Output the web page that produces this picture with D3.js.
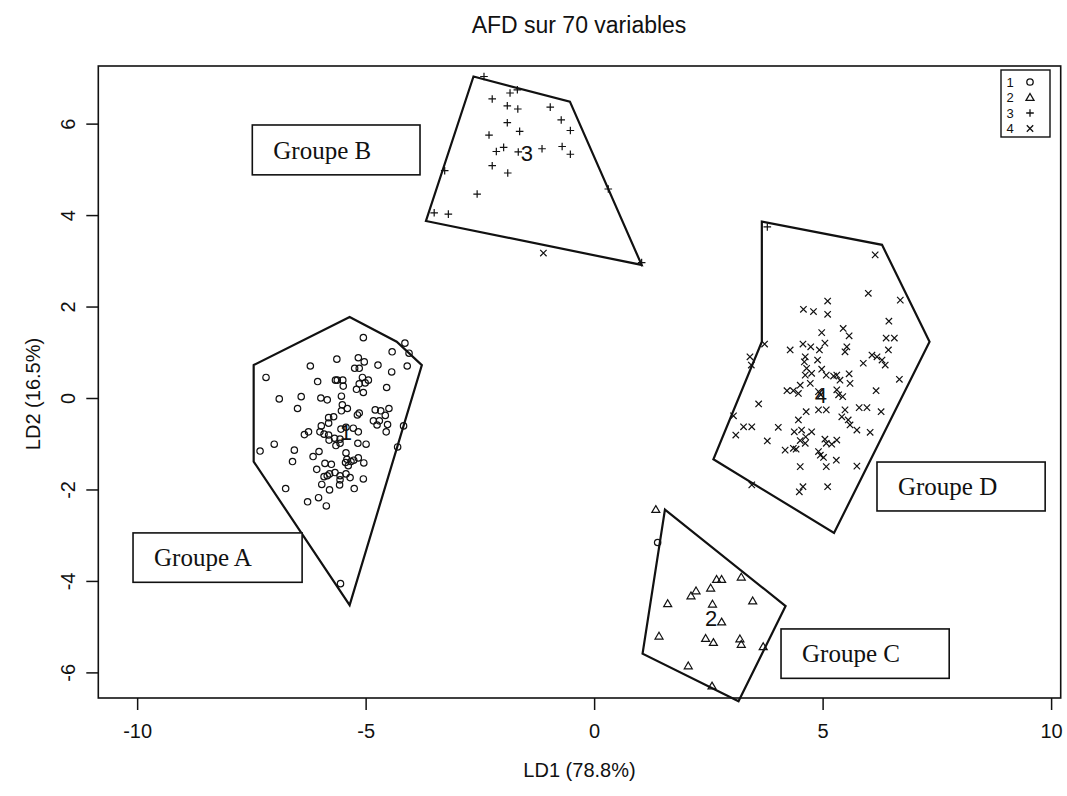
<!DOCTYPE html>
<html><head><meta charset="utf-8">
<script src="https://cdnjs.cloudflare.com/ajax/libs/d3/7.8.5/d3.min.js"></script>
<style>body{margin:0;background:#fff}svg{display:block}</style>
</head><body><svg id="c" width="1067" height="796"></svg>
<script>
// ---- data (LD1, LD2) ----
const groupA = [[-5.05,1.32],[-4.14,1.20],[-4.05,0.98],[-4.42,1.01],[-5.63,0.85],[-5.16,0.88],[-5.03,0.79],[-4.73,0.72],[-4.09,0.70],[-6.21,0.70],
[-5.24,0.65],[-5.14,0.65],[-4.43,0.57],[-7.18,0.45],[-5.66,0.39],[-5.62,0.39],[-5.50,0.39],[-6.05,0.36],[-5.07,0.45],[-4.94,0.39],
[-5.14,0.31],[-5.49,0.26],[-5.01,0.33],[-4.54,0.23],[-5.20,0.19],[-5.05,0.12],[-6.89,-0.02],[-6.41,0.03],[-5.98,0.00],[-5.84,-0.04],
[-5.53,0.04],[-6.49,-0.23],[-5.51,-0.15],[-5.40,-0.23],[-5.53,-0.28],[-5.14,-0.33],[-5.18,-0.37],[-4.79,-0.26],[-4.67,-0.28],[-4.49,-0.23],
[-4.57,-0.38],[-5.70,-0.41],[-5.81,-0.43],[-4.83,-0.50],[-4.70,-0.50],[-4.75,-0.59],[-4.52,-0.58],[-4.17,-0.61],[-5.81,-0.55],[-5.97,-0.61],
[-5.54,-0.68],[-5.43,-0.64],[-5.27,-0.66],[-5.16,-0.74],[-6.25,-0.74],[-6.34,-0.80],[-6.00,-0.74],[-5.91,-0.79],[-5.81,-0.81],[-5.68,-0.88],
[-5.80,-0.92],[-5.56,-0.90],[-4.55,-0.74],[-7.31,-1.16],[-7.00,-1.01],[-6.56,-1.14],[-5.56,-0.99],[-5.65,-1.04],[-5.17,-0.99],[-4.99,-1.01],
[-4.30,-1.07],[-6.02,-1.17],[-6.15,-1.28],[-6.60,-1.39],[-5.43,-1.20],[-5.41,-1.34],[-5.44,-1.41],[-5.32,-1.39],[-5.38,-1.48],[-5.26,-1.36],
[-5.16,-1.31],[-5.04,-1.42],[-6.07,-1.56],[-5.89,-1.43],[-5.75,-1.45],[-5.67,-1.63],[-5.79,-1.66],[-5.84,-1.70],[-5.56,-1.70],[-5.91,-1.72],
[-5.43,-1.66],[-5.34,-1.74],[-5.56,-1.79],[-5.05,-1.77],[-5.96,-1.89],[-5.57,-1.90],[-6.75,-1.98],[-5.79,-2.01],[-5.25,-1.98],[-6.03,-2.18],
[-6.27,-2.27],[-5.86,-2.36],[-5.55,-4.06],[1.39,-3.16]];
const groupC = [[1.35,-2.44],[2.68,-3.97],[2.79,-3.97],[3.22,-3.92],[2.23,-4.22],[2.12,-4.33],[2.55,-4.16],[1.61,-4.50],[2.59,-4.51],[3.47,-4.44],
[2.79,-4.90],[1.42,-5.21],[2.44,-5.26],[2.61,-5.35],[3.19,-5.27],[3.22,-5.39],[3.70,-5.44],[2.06,-5.86],[2.58,-6.30]];
const groupB = [[-2.41,7.03],[-1.84,6.67],[-1.68,6.74],[-2.23,6.54],[-1.90,6.39],[-1.67,6.32],[-0.96,6.36],[-1.90,6.02],[-0.72,6.08],[-1.63,5.83],
[-0.52,5.85],[-2.30,5.75],[-1.98,5.48],[-2.14,5.39],[-1.66,5.38],[-1.14,5.45],[-0.70,5.50],[-0.52,5.33],[-2.23,5.08],[-1.89,4.92],
[-3.27,4.97],[-2.56,4.46],[-3.50,4.05],[-3.19,4.02],[0.31,4.57],[1.04,2.96],[3.79,3.74]];
const groupD = [[-1.11,3.17],[6.15,3.13],[6.00,2.29],[6.70,2.14],[5.11,2.12],[4.58,1.94],[4.80,1.89],[5.11,1.83],[6.45,1.68],[4.98,1.43],
[5.45,1.52],[5.58,1.36],[6.39,1.31],[6.57,1.31],[3.73,1.18],[3.41,0.90],[3.44,0.72],[4.29,1.05],[4.57,1.18],[4.74,1.12],
[5.05,1.20],[4.93,1.05],[5.53,1.12],[5.49,1.01],[6.44,1.05],[4.62,0.90],[4.60,0.79],[4.89,0.83],[5.89,0.76],[6.08,0.94],
[6.19,0.90],[6.30,0.83],[6.37,0.72],[4.65,0.65],[4.98,0.63],[4.76,0.54],[4.62,0.50],[5.08,0.50],[5.24,0.48],[5.31,0.50],
[5.58,0.53],[5.38,0.39],[5.60,0.32],[6.68,0.41],[4.73,0.32],[4.51,0.28],[4.22,0.16],[4.36,0.16],[4.47,0.10],[4.91,0.14],
[4.96,0.07],[5.31,0.18],[5.44,0.03],[5.35,0.07],[6.17,0.16],[3.60,-0.13],[4.64,-0.30],[4.91,-0.26],[5.08,-0.26],[5.49,-0.26],
[5.42,-0.41],[5.80,-0.21],[5.97,-0.21],[6.28,-0.30],[3.05,-0.39],[3.27,-0.63],[3.45,-0.63],[3.10,-0.81],[4.03,-0.64],[4.47,-0.48],
[4.54,-0.70],[4.38,-0.74],[4.76,-0.74],[4.63,-0.85],[5.56,-0.48],[5.60,-0.59],[5.75,-0.70],[6.04,-0.75],[3.79,-0.94],[4.51,-0.93],
[4.62,-0.99],[4.18,-1.14],[4.36,-1.10],[4.42,-1.12],[5.05,-0.90],[5.31,-0.92],[5.20,-1.01],[5.08,-0.99],[4.91,-1.17],[4.95,-1.25],
[5.02,-1.30],[5.08,-1.50],[5.30,-1.36],[5.75,-1.49],[4.51,-1.50],[3.45,-1.90],[4.57,-1.94],[4.49,-2.05],[5.11,-1.94]];
const groupCentres = [["1",-5.43,-0.74],["2",2.56,-4.82],["3",-1.47,5.35],["4",4.96,0.07]];
const hullA = [[-7.45,0.72],[-5.35,1.77],[-4.32,1.23],[-3.77,0.72],[-5.35,-4.53],[-7.45,-1.39]];
const hullB = [[-2.64,7.03],[-0.53,6.48],[1.04,2.91],[-3.68,3.87]];
const hullC = [[1.55,-2.44],[4.19,-4.55],[3.16,-6.63],[1.06,-5.59]];
const hullD = [[3.67,3.86],[6.30,3.35],[7.34,1.23],[5.25,-2.95],[2.61,-1.34],[3.67,1.23]];
const groupNames = ["Groupe A","Groupe B","Groupe C","Groupe D"];
const groupBoxes = [[-10.09,-2.95,-6.39,-4.03],[-7.48,5.97,-3.81,4.88],[4.09,-5.05,7.77,-6.13],[6.19,-1.40,9.87,-2.47]];
const xTicks = [-10,-5,0,5,10];
const yTicks = [-6,-4,-2,0,2,4,6];
const legendKeys = ["1","2","3","4"];

// ---- chart ----
const svg = d3.select("#c");
const L=98.3,R=1060.7,T=66,B=698;
const x = d3.scaleLinear().domain([-10.85,10.21]).range([L,R]);
const y = d3.scaleLinear().domain([-6.56,7.26]).range([B,T]);
const ink="#111";
const sans="Liberation Sans, Arial, sans-serif";

svg.append("text").attr("x",579).attr("y",33).attr("text-anchor","middle")
  .attr("font-family",sans).attr("font-size",23).attr("fill",ink)
  .text("AFD sur 70 variables");

const fmt = d => String(d);
const xa = svg.append("g").attr("transform",`translate(0,${B})`)
  .call(d3.axisBottom(x).tickValues(xTicks).tickSize(12).tickPadding(14).tickFormat(fmt));
const ya = svg.append("g").attr("transform",`translate(${L},0)`)
  .call(d3.axisLeft(y).tickValues(yTicks).tickSize(12).tickPadding(6).tickFormat(fmt));
[xa,ya].forEach(g=>{g.select(".domain").remove();
  g.selectAll("line").attr("stroke",ink).attr("stroke-width",1.5);
  g.selectAll("text").attr("font-family",sans).attr("font-size",20).attr("fill",ink);});
ya.selectAll(".tick text").attr("text-anchor","middle")
  .attr("transform","rotate(-90)").attr("x",0).attr("y",-30).attr("dy","0.35em");

svg.append("rect").attr("x",L).attr("y",T).attr("width",R-L).attr("height",B-T)
  .attr("fill","none").attr("stroke",ink).attr("stroke-width",1.6);

svg.append("text").attr("x",(L+R)/2).attr("y",777).attr("text-anchor","middle")
  .attr("font-family",sans).attr("font-size",20).attr("fill",ink).text("LD1 (78.8%)");
svg.append("text").attr("transform",`translate(40,${(T+B)/2+12}) rotate(-90)`).attr("text-anchor","middle")
  .attr("font-family",sans).attr("font-size",20).attr("fill",ink).text("LD2 (16.5%)");

const line = d3.line().x(d=>x(d[0])).y(d=>y(d[1]));
[hullA,hullB,hullC,hullD].forEach(h=>{
  svg.append("path").attr("d",line(h)+"Z").attr("fill","none").attr("stroke",ink).attr("stroke-width",2.2);
});

const sym = {
  circle: g=>g.append("circle").attr("r",3.2),
  tri: g=>g.append("path").attr("d","M0,-4L4,2.8L-4,2.8Z"),
  plus: g=>g.append("path").attr("d","M-3.8,0H3.8M0,-3.8V3.8"),
  cross: g=>g.append("path").attr("d","M-3.2,-3.2L3.2,3.2M-3.2,3.2L3.2,-3.2")
};
function drawPts(data,kind){
  const g = svg.append("g").attr("fill","none").attr("stroke",ink).attr("stroke-width",1.2);
  data.forEach(d=>{const p=g.append("g").attr("transform",`translate(${x(d[0])},${y(d[1])})`); sym[kind](p);});
}
drawPts(groupA,"circle");drawPts(groupC,"tri");drawPts(groupB,"plus");drawPts(groupD,"cross");

svg.append("g").selectAll("text").data(groupCentres).join("text")
  .attr("x",d=>x(d[1])).attr("y",d=>y(d[2])).attr("dy","0.36em").attr("text-anchor","middle")
  .attr("font-family",sans).attr("font-size",22).attr("fill",ink).text(d=>d[0]);

// group annotation boxes
groupNames.forEach((n,i)=>{
  const b=groupBoxes[i];
  svg.append("rect").attr("x",x(b[0])).attr("y",y(b[1])).attr("width",x(b[2])-x(b[0])).attr("height",y(b[3])-y(b[1]))
    .attr("fill","#fff").attr("stroke",ink).attr("stroke-width",1.6);
  svg.append("text").attr("x",x(b[0])+21).attr("y",(y(b[1])+y(b[3]))/2).attr("dy","0.35em")
    .attr("font-family","Liberation Serif, Times New Roman, serif").attr("font-size",25).attr("fill",ink).text(n);
});

// legend
const lg = svg.append("g");
lg.append("rect").attr("x",1001).attr("y",70).attr("width",49).attr("height",67).attr("fill","#fff").attr("stroke",ink).attr("stroke-width",1.4);
const kinds=["circle","tri","plus","cross"];
legendKeys.forEach((k,i)=>{
  const yy=82+i*15.5;
  lg.append("text").attr("x",1010).attr("y",yy).attr("dy","0.36em").attr("text-anchor","middle")
    .attr("font-family",sans).attr("font-size",13).attr("fill",ink).text(k);
  const p=lg.append("g").attr("transform",`translate(1030,${yy})`).attr("fill","none").attr("stroke",ink).attr("stroke-width",1.3);
  sym[kinds[i]](p);
});
</script></body></html>
